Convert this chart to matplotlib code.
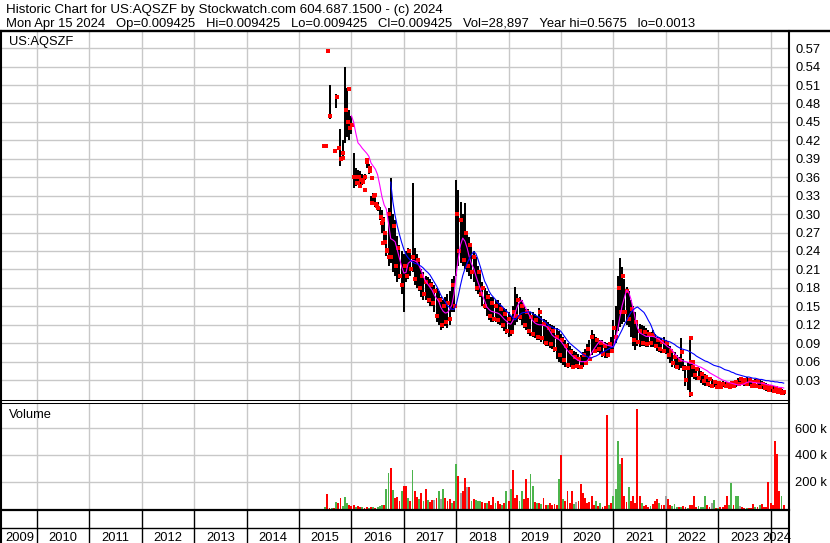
import numpy as np
import matplotlib
matplotlib.use('Agg')
import matplotlib.pyplot as plt
from matplotlib.lines import Line2D

plt.rcParams['font.family'] = ['Liberation Sans', 'DejaVu Sans']

# ---- data (prices in thousandths of a dollar, volume in thousands) ----
first_year = 2015.5          # first half-month sample
step = 1 / 24                # half-month spacing

hi = [410, 565, 510, None, 403, 495, 408, 438, 420, 540, 505, 470,
      460, 400, 375, 372, 370, 365, 365, 392, 382, 330, 335, 330,
      320, 312, 307, 295, 272, 310, 358, 300, 290, 265, 250, 240,
      235, 240, 245, 240, 350, 245, 235, 225, 210, 205, 200, 198,
      195, 190, 185, 180, 175, 165, 160, 165, 170, 175, 195, 200,
      355, 340, 320, 300, 318, 270, 262, 250, 240, 230, 215, 205,
      190, 180, 175, 170, 165, 165, 160, 160, 155, 150, 148, 145,
      140, 135, 150, 182, 170, 165, 160, 150, 145, 145, 140, 140,
      138, 135, 147, 135, 130, 128, 125, 122, 120, 118, 115, 110,
      105, 100, 95, 90, 85, 80, 78, 75, 72, 70, 75, 80,
      88, 95, 111, 105, 100, 98, 95, 95, 92, 90, 92, 100,
      128, 150, 200, 228, 214, 195, 182, 175, 160, 150, 140, 125,
      122, 120, 118, 115, 111, 108, 111, 105, 100, 100, 98, 100,
      95, 90, 85, 80, 75, 70, 68, 98, 65, 55, 60, 98,
      58, 55, 52, 50, 45, 42, 40, 38, 35, 32, 30, 30,
      29, 28, 28, 27, 27, 26, 27, 28, 30, 33, 35, 34,
      32, 35, 33, 30, 30, 32, 31, 30, 28, 26, 25, 24,
      22, 21, 20, 18, 17, 15, 12]
lo = [410, 565, 455, None, 403, 473, 408, 378, 395, 416, 425, 420,
      430, 343, 345, 350, 345, 348, 355, 375, 365, 316, 320, 312,
      305, 290, 270, 250, 232, 215, 220, 205, 200, 190, 195, 170,
      140, 190, 195, 200, 205, 185, 180, 175, 165, 160, 160, 155,
      150, 150, 140, 125, 120, 111, 115, 118, 115, 120, 140, 140,
      200, 215, 220, 215, 210, 205, 200, 195, 190, 175, 170, 165,
      150, 145, 135, 128, 125, 125, 125, 122, 120, 115, 110, 105,
      100, 102, 110, 120, 125, 128, 120, 115, 112, 105, 102, 100,
      98, 95, 95, 92, 88, 85, 85, 82, 80, 75, 65, 60,
      58, 55, 52, 50, 52, 50, 50, 50, 48, 50, 52, 55,
      60, 63, 70, 74, 74, 75, 72, 68, 66, 66, 68, 75,
      79, 90, 110, 117, 122, 125, 120, 117, 100, 85, 79, 85,
      84, 85, 85, 84, 84, 84, 84, 82, 78, 76, 74, 74,
      72, 65, 58, 52, 50, 48, 46, 50, 45, 20, 14, 2,
      35, 32, 30, 30, 25, 22, 20, 20, 19, 18, 18, 17,
      17, 17, 18, 17, 17, 17, 18, 18, 19, 20, 22, 22,
      20, 20, 20, 18, 17, 18, 18, 17, 16, 15, 13, 12,
      11, 11, 10, 9, 8, 7, 6]
close = [410, 565, 460, None, 403, 490, 408, 390, 400, 470, 450, 440,
         445, 360, 350, 360, 355, 352, 360, 385, 370, 318, 330, 316,
         310, 295, 290, 255, 240, 300, 230, 280, 215, 245, 200, 185,
         215, 200, 240, 210, 230, 195, 225, 180, 200, 170, 190, 160,
         185, 155, 175, 135, 160, 120, 150, 125, 155, 130, 185, 150,
         300, 240, 290, 225, 270, 215, 250, 205, 230, 180, 205, 170,
         180, 150, 165, 135, 155, 130, 150, 128, 145, 120, 138, 110,
         130, 108, 140, 135, 160, 132, 150, 120, 140, 110, 132, 105,
         128, 100, 140, 98, 122, 90, 115, 88, 110, 80, 100, 70,
         95, 62, 85, 55, 75, 52, 68, 53, 65, 52, 70, 57,
         80, 65, 100, 78, 95, 80, 90, 72, 86, 70, 88, 78,
         115, 100, 180, 140, 200, 140, 175, 130, 145, 95, 125, 92,
         110, 90, 108, 88, 105, 90, 104, 86, 95, 80, 92, 78,
         90, 70, 78, 57, 68, 52, 62, 75, 50, 30, 50, 60,
         52, 38, 48, 33, 40, 28, 35, 24, 31, 21, 27, 19,
         25, 19, 24, 20, 24, 19, 25, 20, 27, 24, 32, 25,
         30, 24, 30, 20, 27, 21, 28, 19, 24, 17, 21, 14,
         19, 13, 17, 11, 14, 9, 10]

# isolated trades (single-price days) drawn as red dots
odd_t = [2015.48, 2015.69, 2015.76, 2015.84, 2015.95, 2016.07, 2016.12,
         2016.17, 2016.22, 2016.26, 2016.30, 2016.36, 2016.39, 2016.45,
         2016.49, 2016.58, 2016.60, 2016.64, 2016.68, 2016.72, 2022.49,
         2022.49, 2022.52]
odd_p = [410, 403, 408, 391, 503, 360, 350, 345, 355, 340, 388, 375, 359,
         331, 313, 285, 253, 270, 241, 230, 98, 7, 60]

# short moving average (magenta), starts 2016.0
ma_fast_start = 2016.0
ma_fast = [460, 450, 432, 416, 412, 407, 403, 399, 394, 383, 378, 373,
           364, 347, 328, 315, 308, 285, 260, 258, 255, 242, 228, 215,
           204, 205, 220, 223, 225, 224, 222, 216, 208, 198, 191, 186,
           181, 176, 168, 163, 158, 148, 142, 139, 140, 145, 152, 170,
           202, 229, 250, 261, 256, 245, 230, 219, 212, 200, 189, 179,
           168, 159, 149, 145, 142, 141, 140, 139, 137, 133, 129, 126,
           122, 121, 127, 139, 150, 157, 160, 153, 146, 139, 132, 127,
           123, 121, 120, 120, 119, 118, 115, 109, 103, 100, 98, 96,
           93, 88, 83, 78, 74, 70, 67, 64, 62, 60, 60, 60,
           61, 67, 74, 80, 85, 90, 94, 92, 89, 87, 86, 85,
           84, 98, 113, 133, 151, 164, 176, 173, 162, 147, 130, 115,
           107, 105, 103, 101, 101, 101, 101, 100, 98, 96, 93, 90,
           87, 84, 82, 78, 73, 69, 65, 62, 61, 60, 59, 58,
           57, 55, 54, 52, 51, 49, 47, 45, 42, 40, 38, 36,
           34, 32, 30, 29, 27, 26, 25, 24, 23, 22, 22, 23,
           24, 26, 27, 27, 26, 26, 25, 25, 25, 24, 23, 22,
           22, 21, 20, 19, 18, 18, 17]

# long moving average (blue), starts 2016.75
ma_slow_start = 2016.75
ma_slow = [352, 320, 298, 281, 267, 254,
           243, 234, 229, 225, 222, 220, 219, 217, 215, 212, 208, 205,
           201, 195, 189, 183, 176, 168, 162, 157, 151, 148, 145, 145,
           153, 168, 185, 200, 211, 220, 228, 234, 239, 236, 226, 215,
           203, 191, 184, 175, 169, 165, 161, 156, 153, 150, 146, 142,
           139, 135, 131, 128, 132, 136, 139, 140, 140, 141, 141, 138,
           136, 134, 132, 129, 127, 124, 120, 117, 116, 114, 113, 112,
           109, 104, 99, 94, 90, 87, 84, 81, 78, 75, 72, 70,
           68, 66, 66, 68, 69, 71, 73, 75, 77, 79, 81, 83,
           84, 91, 98, 105, 112, 120, 127, 134, 140, 144, 147, 149,
           146, 143, 140, 134, 127, 121, 112, 104, 101, 99, 98, 96,
           94, 93, 92, 90, 88, 85, 83, 81, 80, 79, 78, 76,
           74, 72, 69, 67, 65, 63, 61, 60, 58, 56, 54, 53,
           52, 51, 49, 47, 46, 45, 43, 42, 40, 39, 38, 37,
           36, 35, 35, 34, 33, 33, 32, 31, 31, 30, 29, 29,
           28, 28, 27, 27, 26, 26, 25]

volume = [10, 112, 5, 3, 8, 52, 40, 80, 20, 87, 45, 30,
          20, 25, 12, 18, 10, 15, 8, 12, 6, 10, 14, 8,
          12, 20, 25, 30, 148, 262, 300, 141, 80, 87, 60, 130,
          171, 171, 80, 60, 290, 130, 90, 70, 115, 60, 148, 65,
          50, 65, 65, 80, 130, 70, 148, 80, 60, 70, 45, 60,
          336, 240, 120, 130, 230, 160, 163, 60, 70, 65, 60, 55,
          50, 40, 45, 55, 30, 88, 40, 55, 35, 30, 40, 130,
          60, 148, 290, 80, 100, 60, 130, 70, 220, 80, 255, 171,
          50, 40, 45, 35, 82, 30, 25, 40, 30, 35, 30, 222,
          399, 75, 60, 133, 40, 133, 35, 50, 60, 184, 120, 80,
          45, 50, 95, 30, 60, 20, 40, 15, 20, 698, 25, 40,
          95, 148, 505, 336, 379, 95, 50, 158, 60, 95, 40, 741,
          95, 40, 20, 25, 15, 20, 35, 55, 70, 40, 30, 30,
          97, 75, 30, 20, 35, 15, 10, 12, 20, 10, 8, 25,
          25, 95, 15, 20, 15, 15, 95, 30, 15, 40, 67, 8,
          5, 10, 15, 25, 95, 25, 191, 30, 95, 95, 20, 10,
          8, 5, 8, 5, 38, 10, 15, 30, 35, 10, 15, 201,
          40, 30, 500, 407, 133, 95, 30]
# r = down day, g = up day, n = unchanged
vol_dir = ("grrgrgrrgggr" "rrgrrgrrgrgr" "gggrggrgrrrg" "rrgrgrrgrgrg"
           "rrnrgngrrrgr" "grnrrnrgrggg" "rrgrrrgrrgrg" "rgrrrggrrrgg"
           "rgrgrrgrrrrg" "rgrrrrgnrrrr" "rrrrgrgrrrgr" "ggggrrrgrrrr"
           "rgrrrgrrrgrr" "nrrgggrgrrgr" "rrrggggrrngr" "grrrrggrggnr"
           "rgrrrgrgrrrr" "rrrrrgr")

years = list(range(2009, 2025))
price_ticks = [0.03 * k for k in range(1, 20)]
vol_ticks = [200, 400, 600]

header1 = "Historic Chart for US:AQSZF by Stockwatch.com 604.687.1500 - (c) 2024"
header2 = ("Mon Apr 15 2024   Op=0.009425   Hi=0.009425   Lo=0.009425   "
           "Cl=0.009425   Vol=28,897   Year hi=0.5675   lo=0.0013")

# ---- derived arrays ----
t = first_year + np.arange(len(hi)) * step
hi_a = np.array(hi, dtype=float) / 1000
lo_a = np.array(lo, dtype=float) / 1000
cl_a = np.array(close, dtype=float) / 1000
t_fast = ma_fast_start + np.arange(len(ma_fast)) * step
t_slow = ma_slow_start + np.arange(len(ma_slow)) * step
cmap = {'r': '#ff0000', 'g': '#4cb44c', 'n': '#a0a0a0'}
vol_colors = [cmap[c] for c in vol_dir]

# ---- figure ----
W, H = 830, 543
fig = plt.figure(figsize=(W / 100, H / 100), dpi=100)


def fx(px):
    return px / W


def fy(py):
    return 1 - py / H


x_lo, x_hi = 2009.332, 2024.351
grid_c = '#c8c8c8'
fs = 9.3

ax_p = fig.add_axes([fx(2), fy(400), (789 - 2) / W, (400 - 31) / H])
ax_v = fig.add_axes([fx(2), fy(509.5), (789 - 2) / W, (509.5 - 402.5) / H])
ax_b = fig.add_axes([fx(2), fy(543), (789 - 2) / W, (543 - 509.5) / H])

for ax in (ax_p, ax_v):
    ax.set_xlim(x_lo, x_hi)
    ax.set_xticks(years[1:])
    ax.set_axisbelow(True)
    ax.grid(True, color=grid_c, lw=1.0)
    ax.yaxis.tick_right()
    ax.tick_params(axis='x', length=0, labelbottom=False)
    ax.tick_params(axis='y', length=0, pad=4.5, labelsize=fs, labelright=True, labelleft=False)
    for s in ('left', 'right', 'top'):
        ax.spines[s].set_visible(False)

# price panel
ax_p.set_ylim(-0.00244, 0.5979)
ax_p.set_yticks(price_ticks)
ax_p.set_yticklabels(['%.2f' % v for v in price_ticks])
ax_p.spines['bottom'].set_linewidth(0.75)
ax_p.vlines(t, lo_a, hi_a, color='black', lw=1.3, antialiased=False)
ax_p.scatter(t + 0.35 * step, cl_a, s=6, marker='s', color='#ff0000', lw=0, zorder=3)
ax_p.scatter(odd_t, np.array(odd_p) / 1000, s=6, marker='s', color='#ff0000', lw=0, zorder=3)
ax_p.plot(t_fast, np.array(ma_fast) / 1000, color='#ff00ff', lw=0.8, zorder=4)
ax_p.plot(t_slow, np.array(ma_slow) / 1000, color='#0000ff', lw=0.8, zorder=4)

# volume panel
ax_v.set_ylim(-6, 790)
ax_v.set_yticks(vol_ticks)
ax_v.set_yticklabels(['%d k' % v for v in vol_ticks])
ax_v.spines['top'].set_visible(True)
ax_v.spines['top'].set_linewidth(0.75)
ax_v.spines['bottom'].set_linewidth(1.6)
ax_v.bar(t, volume, width=step * 0.85, color=vol_colors, lw=0, antialiased=False)

# year band
ax_b.set_xlim(x_lo, x_hi)
ax_b.set_ylim(0, 1)
ax_b.axis('off')
ax_b.vlines(years[1:], 0, 1, color='black', lw=1.0)
ax_b.axhline((543 - 527.5) / 33.5, color='black', lw=1.0)
for y in years:
    a, b = max(y, x_lo), min(y + 1, x_hi)
    xc = (a + b) / 2
    if y == years[-1]:
        xc = 2024.122
    ax_b.text(xc, (543 - 540.7) / 33.5, str(y), ha='center', va='baseline', fontsize=fs)

# frame lines and header
fig.add_artist(Line2D([0, 1], [fy(30.5), fy(30.5)], color='black', lw=1.7))
fig.add_artist(Line2D([fx(1), fx(1)], [fy(30.5), 0], color='black', lw=1.5))
fig.add_artist(Line2D([fx(789), fx(789)], [fy(30.5), 0], color='black', lw=1.5))
fig.text(fx(6), fy(13.3), header1, fontsize=9.6, va='baseline')
fig.text(fx(6), fy(27.3), header2, fontsize=9.4, va='baseline')
fig.text(fx(9), fy(45), 'US:AQSZF', fontsize=fs, va='baseline')
fig.text(fx(9), fy(418), 'Volume', fontsize=fs, va='baseline')

fig.savefig('out.png', dpi=100)
